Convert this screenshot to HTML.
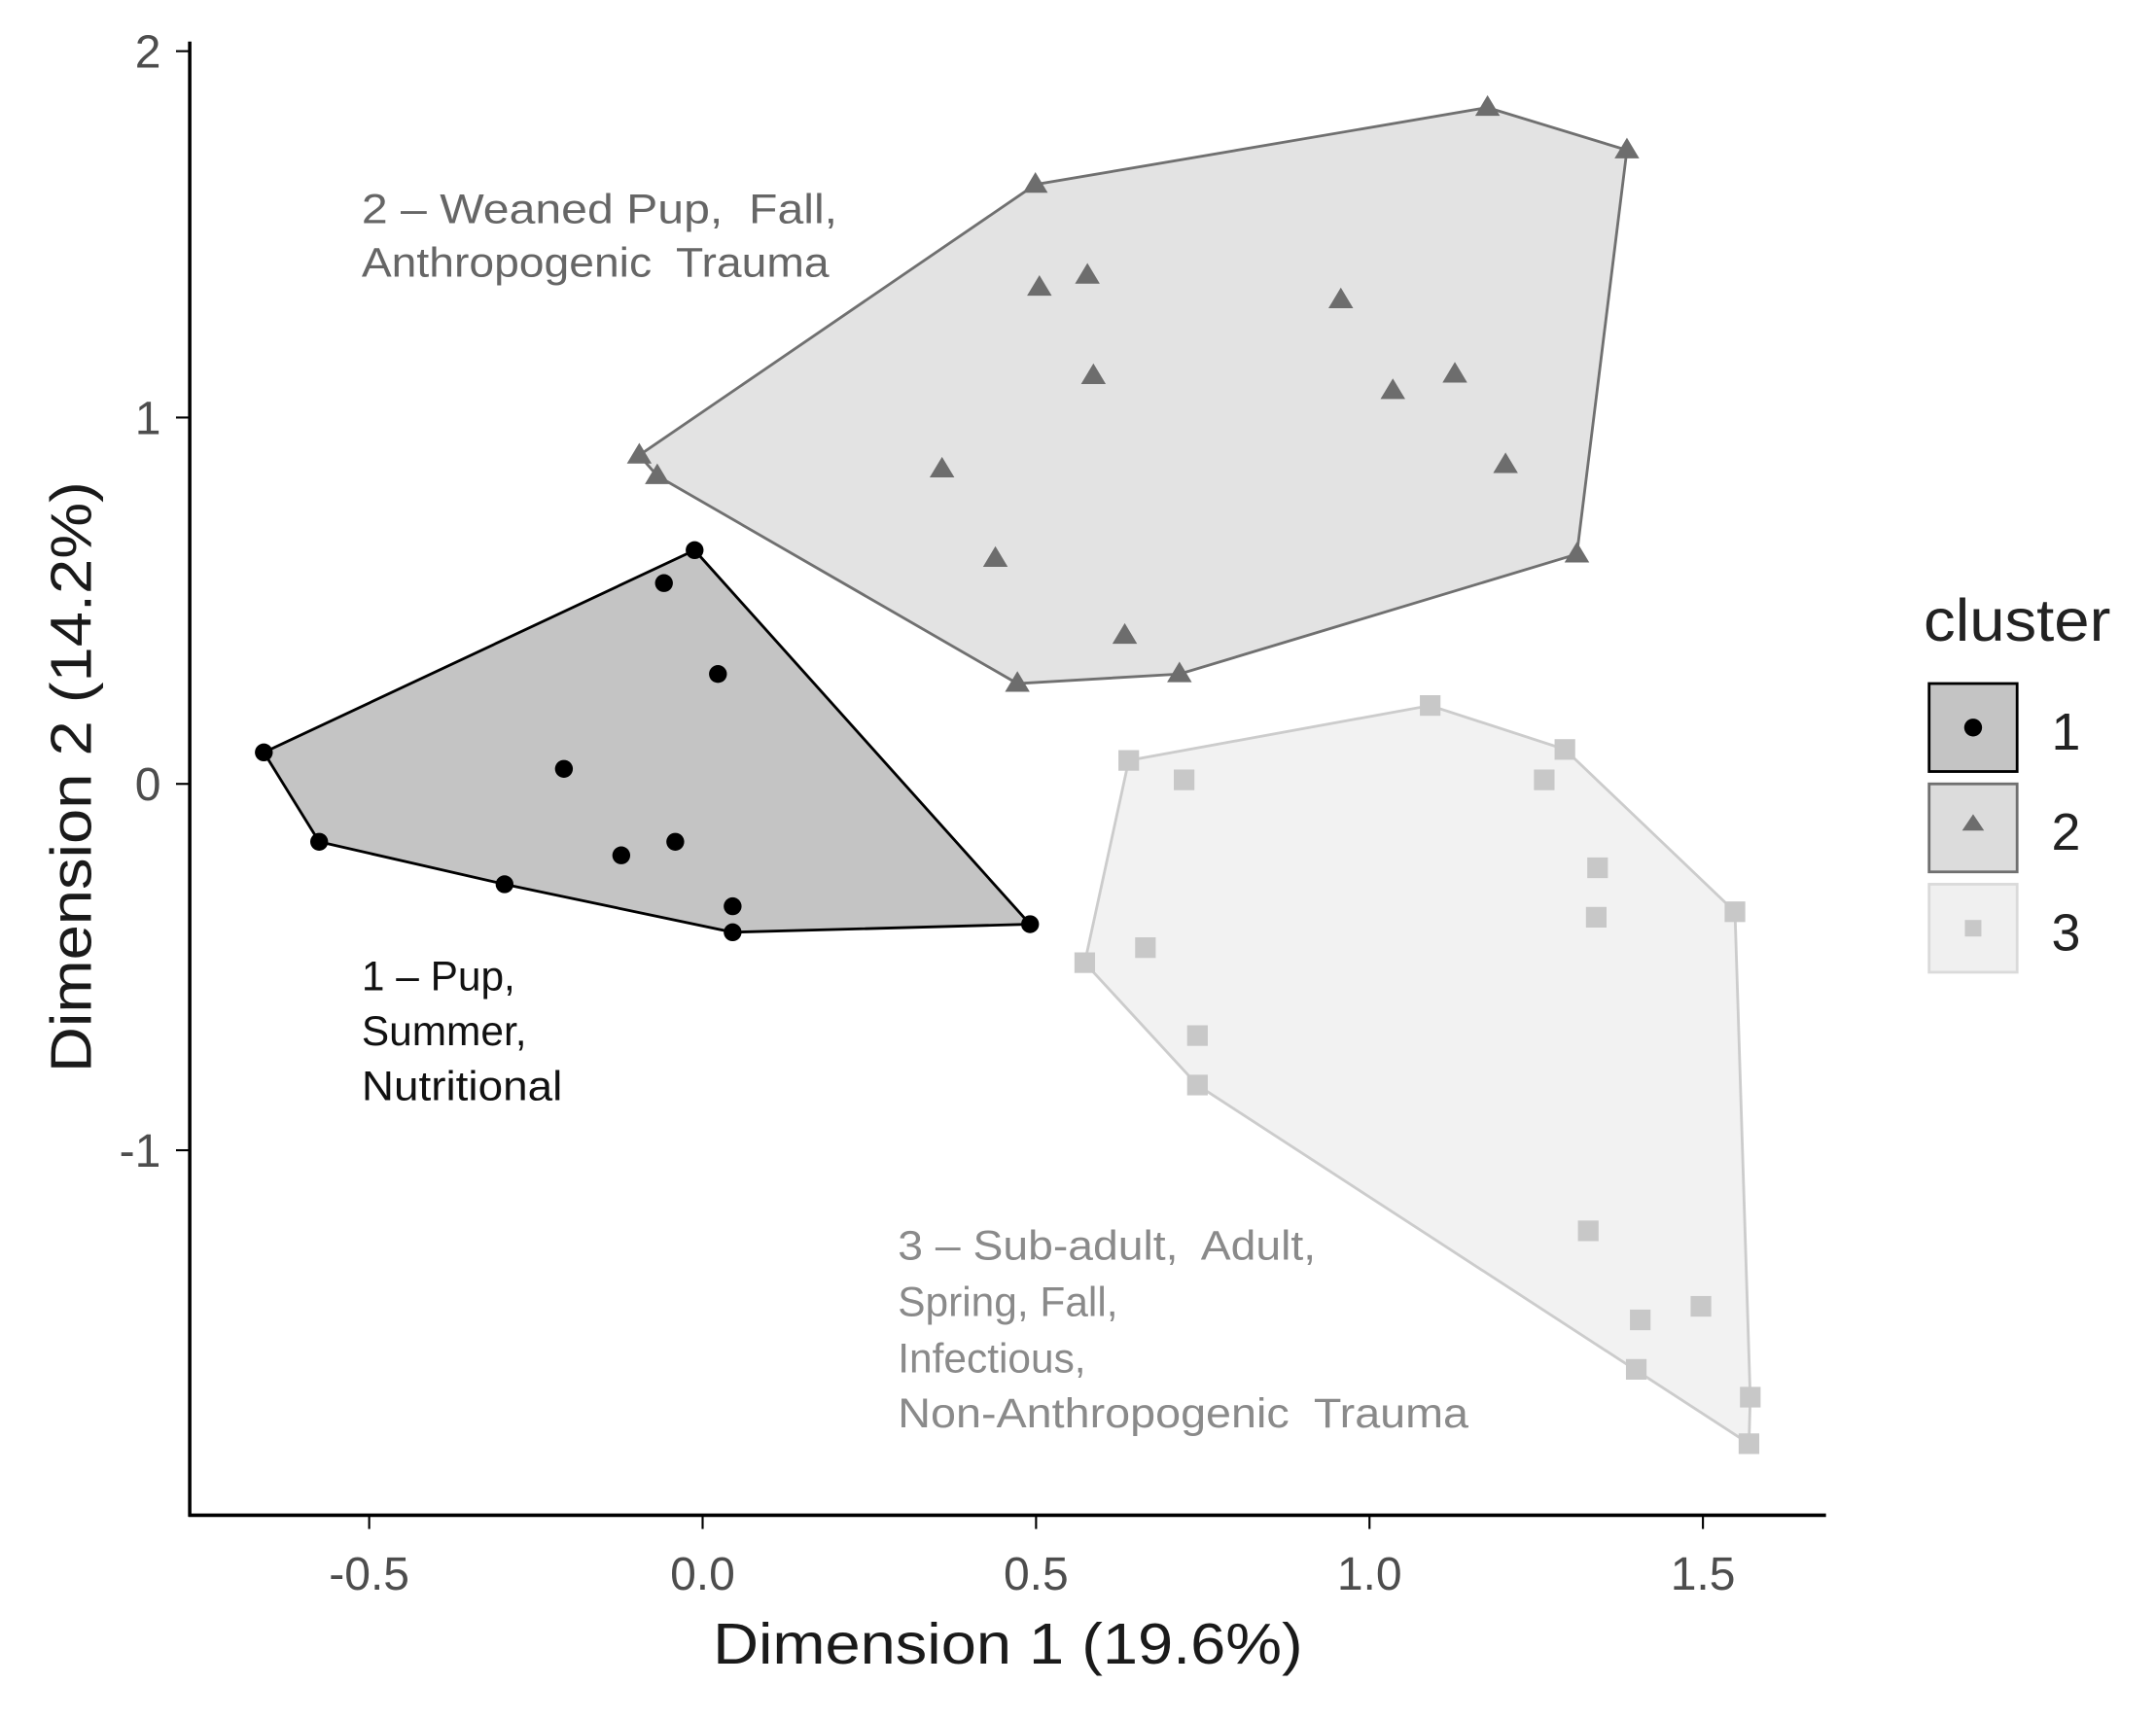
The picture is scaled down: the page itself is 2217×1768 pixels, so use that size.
<!DOCTYPE html>
<html><head><meta charset="utf-8"><style>
html,body{margin:0;padding:0;background:#fff;}
svg{display:block;font-family:"Liberation Sans",Arial,sans-serif;}
text{white-space:pre;}
</style></head><body>
<svg id="chart" width="2217" height="1768" viewBox="0 0 1568 1250" xmlns="http://www.w3.org/2000/svg" xml:space="preserve">
<rect x="0" y="0" width="1568" height="1250" fill="#fff"/>
<g id="hulls"></g>
<g id="points"></g>
<g id="axes"></g>
<g font-size="30">
<text fill="#666" x="263" y="162" textLength="346" lengthAdjust="spacingAndGlyphs">2 – Weaned Pup,  Fall,</text>
<text fill="#666" x="263" y="201" textLength="340" lengthAdjust="spacingAndGlyphs">Anthropogenic  Trauma</text>
<text fill="#111" x="263" y="720">1 – Pup,</text>
<text fill="#111" x="263" y="760">Summer,</text>
<text fill="#111" x="263" y="800" textLength="146" lengthAdjust="spacingAndGlyphs">Nutritional</text>
<text fill="#8a8a8a" x="653" y="916" textLength="304" lengthAdjust="spacingAndGlyphs">3 – Sub-adult,  Adult,</text>
<text fill="#8a8a8a" x="653" y="957">Spring, Fall,</text>
<text fill="#8a8a8a" x="653" y="998">Infectious,</text>
<text fill="#8a8a8a" x="653" y="1038" textLength="415" lengthAdjust="spacingAndGlyphs">Non-Anthropogenic  Trauma</text>
</g>
<g>
<text x="1399" y="466" font-size="43" fill="#222" textLength="136" lengthAdjust="spacingAndGlyphs">cluster</text>
<rect x="1403" y="497" width="64" height="64" fill="#c4c4c4" stroke="#000" stroke-width="2"/>
<circle cx="1435" cy="529" r="6.5" fill="#000"/>
<text x="1492" y="545" font-size="38" fill="#222">1</text>
<rect x="1403" y="570" width="64" height="64" fill="#dcdcdc" stroke="#707070" stroke-width="2"/>
<polygon points="1435,592 1443,604 1427,604" fill="#6d6d6d"/>
<text x="1492" y="618" font-size="38" fill="#222">2</text>
<rect x="1403" y="643" width="64" height="64" fill="#f0f0f0" stroke="#dadada" stroke-width="2"/>
<rect x="1429" y="669" width="12" height="12" fill="#c8c8c8"/>
<text x="1492" y="691" font-size="38" fill="#222">3</text>
</g>
</svg>
<script>
const xTicks = [-0.5, 0.0, 0.5, 1.0, 1.5];
const xTickLabels = ["-0.5", "0.0", "0.5", "1.0", "1.5"];
const yTicks = [2, 1, 0, -1];
const yTickLabels = ["2", "1", "0", "-1"];
const c1x = [-0.658,-0.575,-0.297,-0.208,-0.122,-0.041,-0.058,-0.012,0.023,0.045,0.045,0.491];
const c1y = [0.086,-0.158,-0.274,0.041,-0.195,-0.158,0.548,0.638,0.300,-0.334,-0.405,-0.383];
const c2x = [-0.095,-0.068,0.499,0.505,0.577,0.586,0.359,0.439,0.633,0.472,0.715,0.957,1.035,1.128,1.204,1.177,1.386,1.311];
const c2y = [0.897,0.841,1.636,1.355,1.388,1.114,0.859,0.615,0.405,0.274,0.300,1.321,1.073,1.118,0.871,1.846,1.730,0.627];
const c3x = [0.639,0.722,1.091,1.293,1.262,1.342,1.340,1.548,0.573,0.664,0.742,0.742,1.328,1.497,1.406,1.400,1.571,1.569];
const c3y = [0.064,0.011,0.214,0.094,0.011,-0.229,-0.364,-0.349,-0.488,-0.447,-0.687,-0.822,-1.220,-1.426,-1.463,-1.598,-1.674,-1.801];

const NS = "http://www.w3.org/2000/svg";
const X0 = 511, XU = 485, Y0 = 570, YU = 266.5;
function sx(v){ return X0 + v*XU; }
function sy(v){ return Y0 - v*YU; }
function mk(tag, attrs, parent){
  const e = document.createElementNS(NS, tag);
  for (const k in attrs) e.setAttribute(k, attrs[k]);
  parent.appendChild(e); return e;
}
function hull(xs, ys){
  const p = xs.map((x,i)=>[sx(x), sy(ys[i])]).sort((a,b)=>a[0]-b[0]||a[1]-b[1]);
  const cr=(o,a,b)=>(a[0]-o[0])*(b[1]-o[1])-(a[1]-o[1])*(b[0]-o[0]);
  const lo=[],up=[];
  for(const q of p){while(lo.length>=2&&cr(lo[lo.length-2],lo[lo.length-1],q)<=0)lo.pop();lo.push(q);}
  for(let i=p.length-1;i>=0;i--){const q=p[i];while(up.length>=2&&cr(up[up.length-2],up[up.length-1],q)<=0)up.pop();up.push(q);}
  lo.pop();up.pop();
  return lo.concat(up).map(q=>q[0].toFixed(1)+","+q[1].toFixed(1)).join(" ");
}
const hg = document.getElementById('hulls');
const pg = document.getElementById('points');
const ag = document.getElementById('axes');

const h2 = mk('polygon', {points: hull(c2x,c2y), fill:'#e3e3e3', stroke:'#707070', 'stroke-width':2}, hg);


const h3 = mk('polygon', {points: hull(c3x,c3y), fill:'#f2f2f2', stroke:'#cccccc', 'stroke-width':2}, hg);


const h1 = mk('polygon', {points: hull(c1x,c1y), fill:'#c4c4c4', stroke:'#000', 'stroke-width':2}, hg);



c3x.forEach((x,i)=>{
  const e = mk('rect', {x: sx(x)-7.5, y: sy(c3y[i])-7.5, width:15, height:15, fill:'#c8c8c8'}, pg);
  
  
});
c2x.forEach((x,i)=>{
  const cx=sx(x), cy=sy(c2y[i]);
  const e = mk('polygon', {points: `${cx},${cy-9} ${cx+9},${cy+6} ${cx-9},${cy+6}`, fill:'#6d6d6d'}, pg);
  
  
});
c1x.forEach((x,i)=>{
  const e = mk('circle', {cx: sx(x), cy: sy(c1y[i]), r:6.5, fill:'#000'}, pg);
  
  
});

const yl = mk('line', {x1:138, y1:30, x2:138, y2:1103, stroke:'#000', 'stroke-width':2.5}, ag);


const xl = mk('line', {x1:137, y1:1102, x2:1328, y2:1102, stroke:'#000', 'stroke-width':2.5}, ag);


xTicks.forEach((v,i)=>{
  const t = mk('line', {x1:sx(v), y1:1102, x2:sx(v), y2:1112, stroke:'#000', 'stroke-width':1.5}, ag);
  
  
  const l = mk('text', {x:sx(v), y:1156, 'text-anchor':'middle', 'font-size':34, fill:'#4d4d4d'}, ag);
  l.textContent = xTickLabels[i];
  
  
});
yTicks.forEach((v,i)=>{
  const t = mk('line', {x1:128, y1:sy(v), x2:138, y2:sy(v), stroke:'#000', 'stroke-width':1.5}, ag);
  
  
  const l = mk('text', {x:117, y:sy(v)+12, 'text-anchor':'end', 'font-size':34, fill:'#4d4d4d'}, ag);
  l.textContent = yTickLabels[i];
  
  
});
const xt = mk('text', {x:733, y:1210, 'text-anchor':'middle', 'font-size':42, fill:'#1a1a1a', textLength:429, lengthAdjust:'spacingAndGlyphs'}, ag);
xt.textContent = 'Dimension 1 (19.6%)';


const yt = mk('text', {x:0, y:0, 'text-anchor':'middle', 'font-size':42, fill:'#1a1a1a', textLength:430, lengthAdjust:'spacingAndGlyphs', transform:'translate(66,565) rotate(-90)'}, ag);
yt.textContent = 'Dimension 2 (14.2%)';


</script>
</body></html>
